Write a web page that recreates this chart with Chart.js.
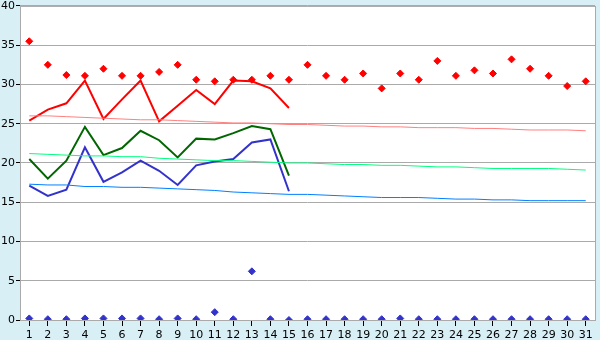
<!DOCTYPE html>
<html>
<head>
<meta charset="utf-8">
<script src="https://cdn.jsdelivr.net/npm/chart.js@4.4.0/dist/chart.umd.min.js"></script>
<style>
  html, body { margin: 0; padding: 0; background: #d9eff6; }
  #wrap { width: 600px; height: 340px; }
</style>
</head>
<body>
<div id="wrap"><canvas id="chart" width="600" height="340"></canvas></div>
<script>
var days = [];
for (var d = 1; d <= 31; d++) { days.push(String(d)); }

// daily lines (first 15 days)
var redLine   = [25.4, 26.8, 27.6, 30.5, 25.6, 28.1, 30.5, 25.3, 27.3, 29.3, 27.5, 30.5, 30.4, 29.5, 27.0];
var greenLine = [20.5, 18.0, 20.3, 24.6, 21.0, 21.9, 24.1, 22.9, 20.7, 23.1, 23.0, 23.8, 24.7, 24.3, 18.4];
var blueLine  = [17.1, 15.8, 16.6, 22.0, 17.6, 18.8, 20.3, 19.0, 17.2, 19.7, 20.2, 20.5, 22.6, 23.0, 16.4];

// point markers
var redPoints  = [35.5, 32.5, 31.2, 31.1, 32.0, 31.1, 31.1, 31.6, 32.5, 30.6, 30.4, 30.6, 30.6, 31.1, 30.6, 32.5,
                  31.1, 30.6, 31.4, 29.5, 31.4, 30.6, 33.0, 31.1, 31.8, 31.4, 33.2, 32.0, 31.1, 29.8, 30.4];
var bluePoints = [0.2, 0.1, 0.1, 0.2, 0.2, 0.2, 0.2, 0.1, 0.2, 0.1, 1.0, 0.1, 6.2, 0.1, 0.0, 0.1,
                  0.1, 0.1, 0.1, 0.1, 0.2, 0.1, 0.1, 0.1, 0.1, 0.1, 0.1, 0.1, 0.1, 0.1, 0.1];

// thin trend lines
var pinkTrend  = [26.0, 26.0, 25.9, 25.8, 25.7, 25.6, 25.5, 25.5, 25.4, 25.3, 25.2, 25.1, 25.1, 25.0, 24.9, 24.9,
                  24.8, 24.7, 24.7, 24.6, 24.6, 24.5, 24.5, 24.5, 24.4, 24.4, 24.3, 24.2, 24.2, 24.2, 24.1];
var mintTrend  = [21.2, 21.1, 21.0, 20.9, 20.9, 20.8, 20.8, 20.6, 20.5, 20.4, 20.3, 20.3, 20.2, 20.1, 20.0, 20.0,
                  19.9, 19.8, 19.8, 19.7, 19.7, 19.6, 19.5, 19.5, 19.4, 19.3, 19.3, 19.3, 19.3, 19.2, 19.1];
var skyTrend   = [17.3, 17.2, 17.2, 17.0, 17.0, 16.9, 16.9, 16.8, 16.7, 16.6, 16.5, 16.3, 16.2, 16.1, 16.0, 16.0,
                  15.9, 15.8, 15.7, 15.6, 15.6, 15.6, 15.5, 15.4, 15.4, 15.3, 15.3, 15.2, 15.2, 15.2, 15.2];

var yTicks = [0, 5, 10, 15, 20, 25, 30, 35, 40];

// white plot area + grey frame
var plotArea = {
    id: 'plotArea',
    beforeDraw: function (chart) {
        var a = chart.chartArea, ctx = chart.ctx;
        ctx.save();
        ctx.fillStyle = '#ffffff';
        ctx.fillRect(a.left, a.top, a.right - a.left, a.bottom - a.top);
        ctx.restore();
    },
    afterDraw: function (chart) {
        var a = chart.chartArea, ctx = chart.ctx;
        ctx.save();
        ctx.strokeStyle = '#aaaaaa';
        ctx.lineWidth = 1;
        ctx.strokeRect(a.left + 0.5, a.top + 0.5, a.right - a.left, a.bottom - a.top);
        ctx.restore();
    }
};

function lineSet(data, color, width) {
    return {
        data: data, borderColor: color, backgroundColor: color, borderWidth: width,
        pointRadius: 0, tension: 0, fill: false
    };
}
function pointSet(data, color) {
    return {
        data: data, showLine: false, borderColor: color, backgroundColor: color,
        pointStyle: 'rectRot', pointRadius: 3.5, borderWidth: 1
    };
}

var ctx = document.getElementById('chart');
new Chart(ctx, {
    type: 'line',
    data: {
        labels: days,
        datasets: [
            lineSet(pinkTrend, '#ff8080', 1),
            lineSet(mintTrend, '#00ff80', 1),
            lineSet(skyTrend, '#0080ff', 1),
            lineSet(redLine, '#ff0000', 2),
            lineSet(greenLine, '#006600', 2),
            lineSet(blueLine, '#3333cc', 2),
            pointSet(redPoints, '#ff0000'),
            pointSet(bluePoints, '#3333cc')
        ]
    },
    options: {
        responsive: false,
        animation: false,
        events: [],
        layout: { padding: { top: 0, right: 5, left: 0, bottom: 0 } },
        plugins: { legend: { display: false }, tooltip: { enabled: false } },
        scales: {
            x: {
                type: 'category',
                offset: true,
                grid: { display: true, drawOnChartArea: false, offset: false, tickColor: '#000000', tickLength: 6 },
                border: { display: false },
                ticks: { color: '#000000', font: { family: 'DejaVu Sans', size: 11 }, padding: 3, maxRotation: 0, autoSkip: false },
                afterFit: function (s) { s.height = 20; }
            },
            y: {
                min: 0, max: 40,
                afterBuildTicks: function (s) { s.ticks = yTicks.map(function (v) { return { value: v }; }); },
                grid: { color: '#aaaaaa', tickColor: '#000000', tickLength: 4 },
                border: { display: false },
                ticks: { color: '#000000', font: { family: 'DejaVu Sans', size: 11, lineHeight: 0.9 }, padding: 1 },
                afterFit: function (s) { s.width = 20; }
            }
        }
    },
    plugins: [plotArea]
});
</script>
</body>
</html>
